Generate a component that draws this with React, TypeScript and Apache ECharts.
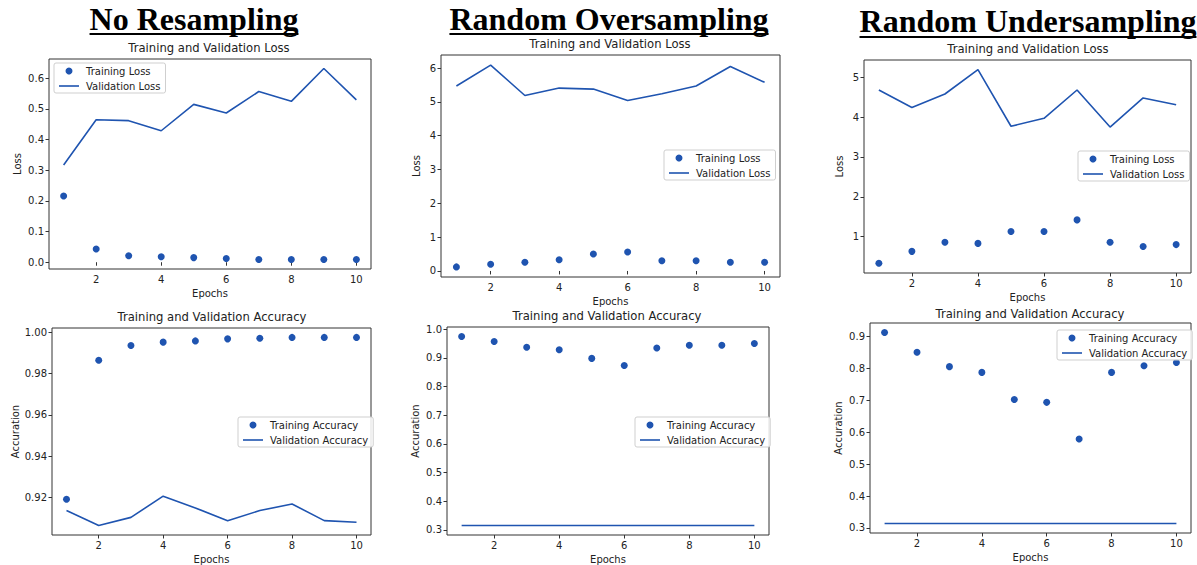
import React, { useEffect, useRef } from "react";
import * as echarts from "echarts";

const epochs = [1, 2, 3, 4, 5, 6, 7, 8, 9, 10];

// No Resampling
const noResTrainLoss = [0.216, 0.043, 0.021, 0.018, 0.015, 0.012, 0.009, 0.009, 0.009, 0.009];
const noResValLoss = [0.317, 0.465, 0.462, 0.429, 0.515, 0.487, 0.557, 0.525, 0.632, 0.53];
const noResTrainAcc = [0.919, 0.9865, 0.9937, 0.9953, 0.9959, 0.9969, 0.9972, 0.9976, 0.9976, 0.9976];
const noResValAcc = [0.9135, 0.9062, 0.9102, 0.9205, 0.9148, 0.9086, 0.9135, 0.9167, 0.9086, 0.9078];

// Random Oversampling
const overTrainLoss = [0.12, 0.2, 0.26, 0.33, 0.5, 0.56, 0.3, 0.3, 0.26, 0.26];
const overValLoss = [5.47, 6.09, 5.19, 5.41, 5.38, 5.04, 5.24, 5.47, 6.05, 5.58];
const overTrainAcc = [0.9745, 0.957, 0.937, 0.928, 0.898, 0.873, 0.934, 0.944, 0.944, 0.95];
const overValAcc = [0.315, 0.315, 0.315, 0.315, 0.315, 0.315, 0.315, 0.315, 0.315, 0.315];

// Random Undersampling
const underTrainLoss = [0.33, 0.63, 0.86, 0.83, 1.13, 1.13, 1.42, 0.86, 0.75, 0.8];
const underValLoss = [4.68, 4.24, 4.58, 5.19, 3.77, 3.97, 4.68, 3.75, 4.48, 4.31];
const underTrainAcc = [0.913, 0.851, 0.806, 0.788, 0.703, 0.694, 0.579, 0.788, 0.809, 0.819];
const underValAcc = [0.314, 0.314, 0.314, 0.314, 0.314, 0.314, 0.314, 0.314, 0.314, 0.314];

const xTicks = [2, 4, 6, 8, 10];
const ticksLossNoRes = [0, 0.1, 0.2, 0.3, 0.4, 0.5, 0.6];
const ticksLossOver = [0, 1, 2, 3, 4, 5, 6];
const ticksLossUnder = [1, 2, 3, 4, 5];
const ticksAccNoRes = [0.92, 0.94, 0.96, 0.98, 1.0];
const ticksAccOver = [0.3, 0.4, 0.5, 0.6, 0.7, 0.8, 0.9, 1.0];
const ticksAccUnder = [0.3, 0.4, 0.5, 0.6, 0.7, 0.8, 0.9];

const groupTitles = ["No Resampling", "Random Oversampling", "Random Undersampling"];
const lossTitle = "Training and Validation Loss";
const accTitle = "Training and Validation Accuracy";

const BLUE = "#1f54b0";
const TXT = "#222";
const FONT = "DejaVu Sans";
const LINE_ICON = "path://M0,0H20V1.6H0Z";

type Panel = {
  grid: { left: number; top: number; width: number; height: number };
  train: number[];
  val: number[];
  yTicks: number[];
  decimals: number;
  title: string;
  titleX: number;
  titleY: number;
  yName: string;
  trainName: string;
  valName: string;
  legend: { left: number; top: number };
};

const panels: Panel[] = [
  { grid: { left: 49, top: 59, width: 322, height: 210 }, train: noResTrainLoss, val: noResValLoss, yTicks: ticksLossNoRes, decimals: 1, title: lossTitle, titleX: 209, titleY: 49, yName: "Loss", trainName: "Training Loss", valName: "Validation Loss", legend: { left: 54, top: 63 } },
  { grid: { left: 441, top: 55, width: 339, height: 222 }, train: overTrainLoss, val: overValLoss, yTicks: ticksLossOver, decimals: 0, title: lossTitle, titleX: 610, titleY: 45, yName: "Loss", trainName: "Training Loss", valName: "Validation Loss", legend: { left: 664, top: 150 } },
  { grid: { left: 864, top: 60, width: 327, height: 213 }, train: underTrainLoss, val: underValLoss, yTicks: ticksLossUnder, decimals: 0, title: lossTitle, titleX: 1028, titleY: 50, yName: "Loss", trainName: "Training Loss", valName: "Validation Loss", legend: { left: 1078, top: 151 } },
  { grid: { left: 52, top: 328, width: 319, height: 207 }, train: noResTrainAcc, val: noResValAcc, yTicks: ticksAccNoRes, decimals: 2, title: accTitle, titleX: 212, titleY: 318, yName: "Accuration", trainName: "Training Accuracy", valName: "Validation Accuracy", legend: { left: 238, top: 417 } },
  { grid: { left: 447, top: 327, width: 322, height: 210 }, train: overTrainAcc, val: overValAcc, yTicks: ticksAccOver, decimals: 1, title: accTitle, titleX: 607, titleY: 317, yName: "Accuration", trainName: "Training Accuracy", valName: "Validation Accuracy", legend: { left: 635, top: 417 } },
  { grid: { left: 870, top: 323, width: 321, height: 210 }, train: underTrainAcc, val: underValAcc, yTicks: ticksAccUnder, decimals: 1, title: accTitle, titleX: 1030, titleY: 315, yName: "Accuration", trainName: "Training Accuracy", valName: "Validation Accuracy", legend: { left: 1057, top: 330 } },
];

const bigTitles = [
  { x: 194, y: 19, ul: 34 },
  { x: 609, y: 19, ul: 34 },
  { x: 1028, y: 21, ul: 37 },
];

function buildOption() {
  const grids: any[] = [];
  const xAxes: any[] = [];
  const yAxes: any[] = [];
  const series: any[] = [];
  const legends: any[] = [];
  const titles: any[] = [];

  panels.forEach((p, i) => {
    const all = p.train.concat(p.val);
    const lo = Math.min(...all);
    const hi = Math.max(...all);
    const m = (hi - lo) * 0.05;
    grids.push({ ...p.grid, show: true, borderColor: "#333", borderWidth: 1, backgroundColor: "transparent" });
    xAxes.push({
      type: "value",
      gridIndex: i,
      min: 0.55,
      max: 10.45,
      name: "Epochs",
      nameLocation: "middle",
      nameGap: 19,
      nameTextStyle: { fontFamily: FONT, fontSize: 10, color: TXT },
      axisLine: { show: false },
      splitLine: { show: false },
      axisTick: { show: true, length: 3.5, lineStyle: { color: "#333" }, customValues: xTicks },
      axisLabel: { fontFamily: FONT, fontSize: 10, color: TXT, margin: 5, customValues: xTicks, formatter: (v: number) => String(v) },
    });
    yAxes.push({
      type: "value",
      gridIndex: i,
      min: lo - m,
      max: hi + m,
      name: p.yName,
      nameLocation: "middle",
      nameRotate: 90,
      nameGap: p.decimals === 2 ? 31 : p.decimals === 1 ? 27 : 20,
      nameTextStyle: { fontFamily: FONT, fontSize: 10, color: TXT },
      axisLine: { show: false },
      splitLine: { show: false },
      axisTick: { show: true, length: 3.5, lineStyle: { color: "#333" }, customValues: p.yTicks },
      axisLabel: { fontFamily: FONT, fontSize: 10, color: TXT, margin: 5, customValues: p.yTicks, formatter: (v: number) => v.toFixed(p.decimals) },
    });
    series.push({
      type: "scatter",
      name: p.trainName,
      xAxisIndex: i,
      yAxisIndex: i,
      symbol: "circle",
      symbolSize: 7,
      itemStyle: { color: BLUE, opacity: 1 },
      data: epochs.map((e, k) => [e, p.train[k]]),
    });
    series.push({
      type: "line",
      name: p.valName,
      xAxisIndex: i,
      yAxisIndex: i,
      symbol: "none",
      showSymbol: false,
      lineStyle: { color: BLUE, width: 1.6 },
      itemStyle: { color: BLUE },
      data: epochs.map((e, k) => [e, p.val[k]]),
    });
    legends.push({
      left: p.legend.left,
      top: p.legend.top,
      orient: "vertical",
      symbolKeepAspect: true,
      data: [
        { name: p.trainName, icon: "circle", itemStyle: { color: BLUE, opacity: 1 } },
        { name: p.valName, icon: LINE_ICON, itemStyle: { color: BLUE, borderWidth: 0 } },
      ],
      itemWidth: 20,
      itemHeight: 7,
      itemGap: 5,
      padding: [3, 5, 2, 5],
      borderColor: "#cfcfcf",
      borderWidth: 1,
      borderRadius: 2,
      backgroundColor: "rgba(255,255,255,0.85)",
      selectedMode: false,
      textStyle: { fontFamily: FONT, fontSize: 10, color: TXT, padding: [0, 0, 0, 2] },
    });
    titles.push({
      text: p.title,
      left: p.titleX,
      top: p.titleY - 7,
      textAlign: "center",
      padding: 0,
      textStyle: { fontFamily: FONT, fontSize: 11.6, fontWeight: "normal", color: TXT },
    });
  });

  const graphics: any[] = [];
  groupTitles.forEach((t, i) => {
    const b = bigTitles[i];
    graphics.push({
      type: "text",
      x: b.x,
      y: b.y,
      style: {
        text: t,
        font: "bold 32px 'Liberation Serif', 'Times New Roman', serif",
        fill: "#000",
        align: "center",
        verticalAlign: "middle",
      },
    });
  });

  return {
    animation: false,
    backgroundColor: "#fff",
    title: titles,
    grid: grids,
    xAxis: xAxes,
    yAxis: yAxes,
    legend: legends,
    series,
    graphic: graphics,
  };
}

export default function App() {
  const ref = useRef<HTMLDivElement>(null);
  useEffect(() => {
    if (!ref.current) return;
    const chart = echarts.init(ref.current, undefined, { renderer: "svg" });
    const opt: any = buildOption();
    chart.setOption(opt);
    const underlines: any[] = [];
    groupTitles.forEach((t, i) => {
      const b = bigTitles[i];
      const w = (echarts.format as any).getTextRect
        ? (echarts.format as any).getTextRect(t, "bold 32px 'Liberation Serif'").width
        : t.length * 16;
      underlines.push({
        type: "line",
        shape: { x1: b.x - w / 2, y1: b.ul, x2: b.x + w / 2, y2: b.ul },
        style: { stroke: "#000", lineWidth: 2 },
      });
    });
    chart.setOption({ graphic: opt.graphic.concat(underlines) });
    return () => chart.dispose();
  }, []);
  return <div ref={ref} style={{ position: "fixed", left: 0, top: 0, width: 1197, height: 565 }} />;
}
